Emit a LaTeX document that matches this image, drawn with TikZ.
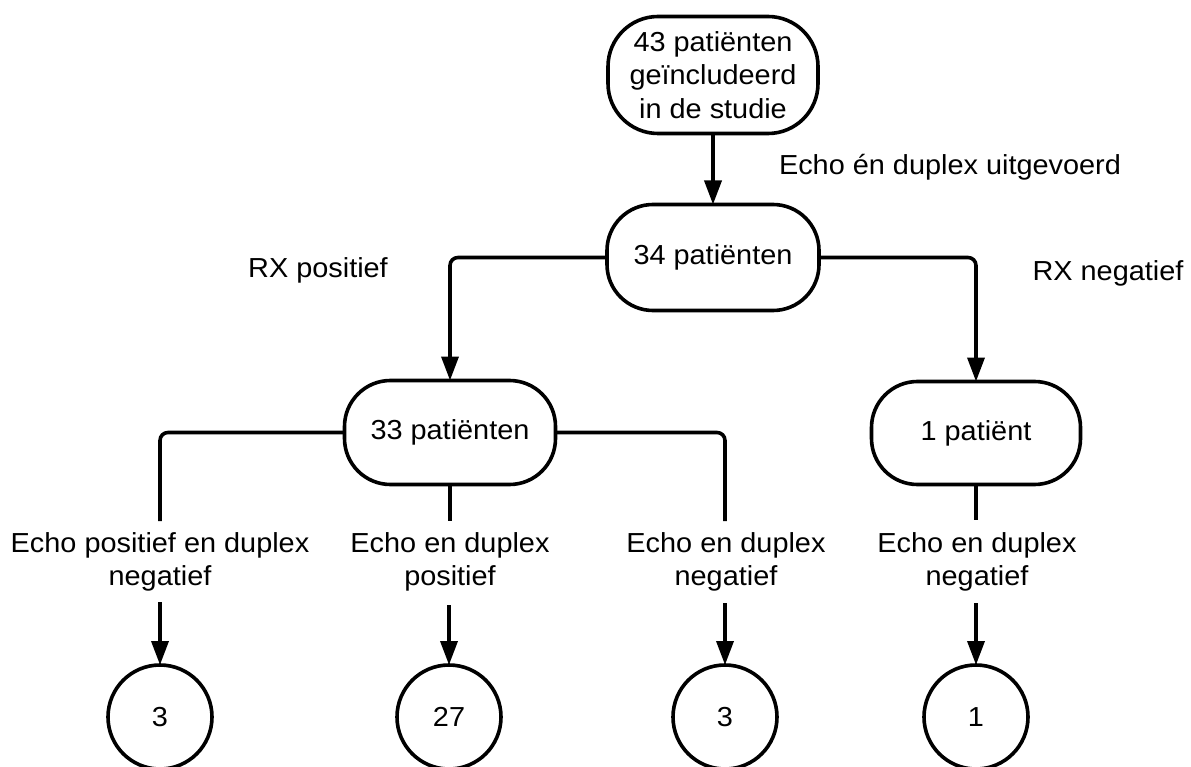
\documentclass[tikz,border=0pt]{standalone}
\usepackage{fontspec}
\setmainfont{Liberation Sans}[FakeStretch=1.05]
\usetikzlibrary{arrows.meta}
\begin{document}
\begin{tikzpicture}[x=1pt,y=-1pt,
  every node/.style={font=\fontsize{27.5pt}{33.5pt}\selectfont, inner sep=0pt, outer sep=0pt},
  box/.style={draw, line width=3.6pt, rounded corners=46pt, align=center},
  circ/.style={draw, circle, line width=3.6pt, minimum size=104pt},
  lab/.style={anchor=base, align=center},
  ln/.style={line width=3.6pt},
  arr/.style={line width=3.6pt, -{Triangle[length=24pt,width=17pt]}}]
\useasboundingbox (0,0) rectangle (1191,767);
% nodes
\node[box, rounded corners=50pt, minimum width=210pt, minimum height=117pt] (n43) at (713,75) {43 patiënten\\geïncludeerd\\in de studie};
\node[box, minimum width=212pt, minimum height=106pt] (n34) at (713,257.5) {34 patiënten};
\node[box, minimum width=211pt, minimum height=104pt] (n33) at (450,432.5) {33 patiënten};
\node[box, minimum width=209pt, minimum height=103pt] (n1) at (976,433) {1 patiënt};
\node[circ] (c1) at (160,717) {3};
\node[circ] (c2) at (449,717) {27};
\node[circ] (c3) at (725,717) {3};
\node[circ] (c4) at (976,717) {1};
% edge labels
\node[anchor=base] (lt) at (950,175) {Echo én duplex uitgevoerd};
\node[anchor=base] (lrp) at (318,278) {RX positief};
\node[anchor=base] (lrn) at (1108,280) {RX negatief};
\node[lab] (l1) at (160,585.5) {Echo positief en duplex\\negatief};
\node[lab] (l2) at (450,585.5) {Echo en duplex\\positief};
\node[lab] (l3) at (726,585.5) {Echo en duplex\\negatief};
\node[lab] (l4) at (977,585.5) {Echo en duplex\\negatief};
% helper coordinates
\coordinate (s1) at (160,521);
\coordinate (s2) at (450,521);
\coordinate (s3) at (725,521);
\coordinate (s4) at (976,520);
\coordinate (a1) at (160,602);
\coordinate (a2) at (449,605);
\coordinate (a3) at (725,603);
\coordinate (a4) at (976,603);
% connectors
\draw[arr] (n43.south) -- (n34.north);
\draw[arr, rounded corners=8pt] (n34.west) -| (n33.north);
\draw[arr, rounded corners=8pt] (n34.east) -| (n1.north);
\draw[ln, rounded corners=8pt] (n33.west) -| (s1);
\draw[ln] (n33.south) -- (s2);
\draw[ln, rounded corners=8pt] (n33.east) -| (s3);
\draw[ln] (n1.south) -- (s4);
\draw[arr] (a1) -- (c1.north);
\draw[arr] (a2) -- (c2.north);
\draw[arr] (a3) -- (c3.north);
\draw[arr] (a4) -- (c4.north);
\end{tikzpicture}
\end{document}
